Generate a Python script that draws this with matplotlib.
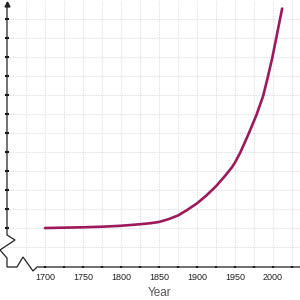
import matplotlib
matplotlib.use("Agg")
import matplotlib.pyplot as plt
from matplotlib.lines import Line2D

# Data (y in grid-step units above the start level)
years = [1700, 1750, 1775, 1800, 1825, 1840, 1850, 1862, 1875, 1887, 1900, 1912,
         1925, 1937, 1946, 1950, 1957, 1968, 1978, 1987, 1993, 1999, 2004, 2008, 2012]
values = [0.0, 0.04, 0.07, 0.12, 0.2, 0.26, 0.32, 0.46, 0.66, 0.95, 1.3, 1.7,
          2.2, 2.75, 3.2, 3.45, 3.98, 4.97, 5.93, 6.95, 7.92, 8.95, 9.95, 10.75, 11.55]
major_ticks = [1700, 1750, 1800, 1850, 1900, 1950, 2000]
minor_ticks = [1725, 1775, 1825, 1875, 1925, 1975, 2025]
y_ticks = list(range(0, 12))
grid_x = list(range(1675, 2026, 25))
grid_y = list(range(-1, 12))

W = H = 300
fig = plt.figure(figsize=(3, 3), dpi=100)
fig.patch.set_facecolor("white")

ax_left, ax_bottom = 7 / W, (H - 267) / H
ax = fig.add_axes([ax_left, ax_bottom, 1 - ax_left, 1 - ax_bottom])
ax.set_xlim(1650, 2035.5)
ax.set_ylim(-2.05, 12.0)
for s in ax.spines.values():
    s.set_visible(False)

grid_kw = dict(color="#dcdce6", lw=0.8, ls=(0, (1.2, 1.2)), zorder=0)
for gx in grid_x:
    ax.axvline(gx, **grid_kw)
for gy in grid_y:
    ax.axhline(gy, **grid_kw)

ax.plot(years, values, color="#9c1a5c", lw=1.9, solid_capstyle="round",
        solid_joinstyle="round", zorder=3)

ax.set_xticks(major_ticks)
ax.set_xticklabels([str(t) for t in major_ticks])
ax.set_xticks(minor_ticks, minor=True)
ax.set_yticks(y_ticks)
ax.set_yticklabels([])
ax.tick_params(axis="x", which="both", direction="inout", length=1.6, width=1.6,
               color="#111111", pad=3.5, labelsize=6.5, labelcolor="#222222")
ax.tick_params(axis="y", which="both", direction="inout", length=2.4, width=1.5,
               color="#111111")
for lbl in ax.get_xticklabels():
    lbl.set_fontfamily("Liberation Sans")

# axis lines with break zigzags (figure pixel coordinates)
pts = [(7, 3), (7, 235), (15, 240), (0, 250), (7, 258), (7, 267), (17, 267),
       (23, 257), (33, 271), (37, 267), (300, 267)]
xs = [p[0] / W for p in pts]
ys = [(H - p[1]) / H for p in pts]
fig.add_artist(Line2D(xs, ys, color="#222222", lw=0.9, transform=fig.transFigure,
                      solid_joinstyle="miter"))
# arrow head at top of y axis
fig.add_artist(Line2D([7 / W], [(H - 4) / H], marker="^", markersize=3.5,
                      color="#222222", transform=fig.transFigure))

fig.text(160 / W, (H - 293) / H, "Year", ha="center", va="center",
         fontsize=8.5, color="#555555", family="Liberation Sans")

fig.savefig("out.png", dpi=100, facecolor="white")
